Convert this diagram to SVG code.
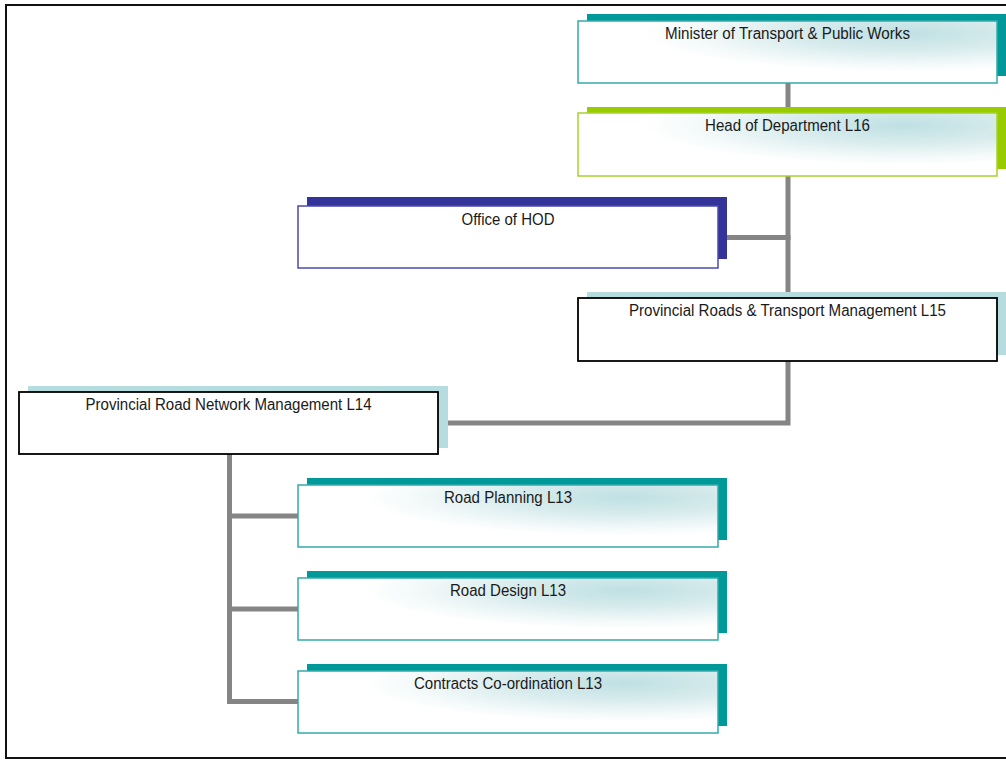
<svg xmlns="http://www.w3.org/2000/svg" width="1006" height="760" viewBox="0 0 1006 760">
<defs>
<radialGradient id="tealFill" cx="0.78" cy="0.2" r="0.62">
<stop offset="0" stop-color="#bfe0e3"/>
<stop offset="0.45" stop-color="#d9eced"/>
<stop offset="0.8" stop-color="#f3f9f9"/>
<stop offset="1" stop-color="#ffffff"/>
</radialGradient>
<style>
.lbl{font-family:"Liberation Sans",Arial,sans-serif;font-size:16px;fill:#1a1a1a;text-anchor:middle}
.conn{stroke:#858585;stroke-width:5;fill:none;stroke-linecap:square}
.tealS{fill:#009999}
.tealF{fill:url(#tealFill);stroke:#33aaaa;stroke-width:1.5}
.greenS{fill:#99cc00}
.greenF{fill:url(#tealFill);stroke:#a6d22a;stroke-width:1.5}
.navyS{fill:#333399}
.navyF{fill:#ffffff;stroke:#4a4ab0;stroke-width:1.5}
.lbS{fill:#b5dde0}
.lbF{fill:#ffffff;stroke:#000000;stroke-width:1.8}
</style>
</defs>
<rect x="6" y="5" width="1010" height="753" fill="#ffffff" stroke="#111111" stroke-width="2"/>
<g id="connectors">
<path class="conn" d="M788,83 V113"/>
<path class="conn" d="M788,176 V298"/>
<path class="conn" d="M727,237.5 H788"/>
<path class="conn" d="M788,361 V423 H448"/>
<path class="conn" d="M229.5,454 V701.5 H298"/>
<path class="conn" d="M229.5,516 H298"/>
<path class="conn" d="M229.5,609 H298"/>
</g>
<g id="minister">
<rect class="tealS" x="587" y="14" width="420" height="62"/>
<rect class="tealF" x="578" y="21" width="419" height="62"/>
<text class="lbl" x="787.5" y="39" textLength="245" lengthAdjust="spacingAndGlyphs">Minister of Transport &amp; Public Works</text>
</g>
<g id="hod">
<rect class="greenS" x="587" y="107" width="420" height="62"/>
<rect class="greenF" x="578" y="113" width="419" height="63"/>
<text class="lbl" x="787.5" y="131" textLength="165" lengthAdjust="spacingAndGlyphs">Head of Department L16</text>
</g>
<g id="office-hod">
<rect class="navyS" x="307" y="197" width="420" height="62"/>
<rect class="navyF" x="298" y="206" width="420" height="62"/>
<text class="lbl" x="508" y="225" textLength="93" lengthAdjust="spacingAndGlyphs">Office of HOD</text>
</g>
<g id="prov-roads-transport">
<rect class="lbS" x="587" y="292" width="420" height="63"/>
<rect class="lbF" x="578" y="298" width="419" height="63"/>
<text class="lbl" x="787.5" y="316" textLength="317" lengthAdjust="spacingAndGlyphs">Provincial Roads &amp; Transport Management L15</text>
</g>
<g id="prov-road-network">
<rect class="lbS" x="28" y="386" width="420" height="62"/>
<rect class="lbF" x="19" y="392" width="419" height="62"/>
<text class="lbl" x="228.5" y="410" textLength="286" lengthAdjust="spacingAndGlyphs">Provincial Road Network Management L14</text>
</g>
<g id="road-planning">
<rect class="tealS" x="307" y="478" width="420" height="62"/>
<rect class="tealF" x="298" y="485" width="420" height="62"/>
<text class="lbl" x="508" y="503" textLength="128" lengthAdjust="spacingAndGlyphs">Road Planning L13</text>
</g>
<g id="road-design">
<rect class="tealS" x="307" y="571" width="420" height="62"/>
<rect class="tealF" x="298" y="578" width="420" height="62"/>
<text class="lbl" x="508" y="596" textLength="116" lengthAdjust="spacingAndGlyphs">Road Design L13</text>
</g>
<g id="contracts">
<rect class="tealS" x="307" y="664" width="420" height="62"/>
<rect class="tealF" x="298" y="671" width="420" height="62"/>
<text class="lbl" x="508" y="689" textLength="188" lengthAdjust="spacingAndGlyphs">Contracts Co-ordination L13</text>
</g>
</svg>
